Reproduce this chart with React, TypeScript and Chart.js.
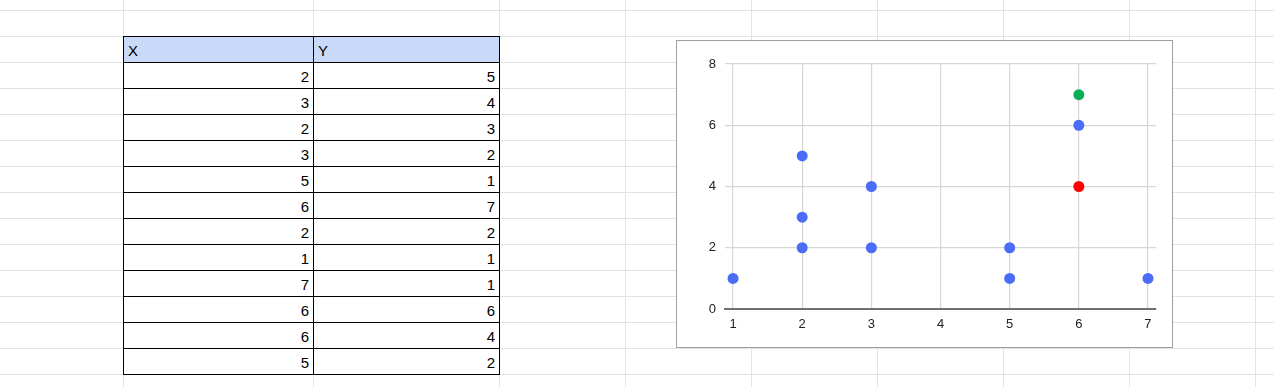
import React, { useEffect, useRef } from "react";
import { Chart, registerables } from "chart.js";

Chart.register(...registerables);

// ---- data ----
const xValues = [2, 3, 2, 3, 5, 6, 2, 1, 7, 6, 6, 5];
const yValues = [5, 4, 3, 2, 1, 7, 2, 1, 1, 6, 4, 2];
const xTicks = [1, 2, 3, 4, 5, 6, 7];
const yTicks = [0, 2, 4, 6, 8];
const headers = ["X", "Y"];
// indices of highlighted points
const greenIndex = [5];
const redIndex = [10];

const BLUE = "#4a6cf6";
const GREEN = "#0aaf55";
const RED = "#fe0000";

const FONT = '"Liberation Sans", Arial, sans-serif';

// sheet layout
const colLines = [123, 313, 499, 625, 751, 877, 1003, 1129, 1255];
const rowLines = Array.from({ length: 15 }, (_, i) => 10 + i * 26);
const tableLeft = 123;
const tableMid = 313;
const tableRight = 499;
const tableTop = 36;
const rowH = 26;

function ScatterChart() {
  const ref = useRef<HTMLCanvasElement | null>(null);
  useEffect(() => {
    if (!ref.current) return;
    const pts = xValues.map((x, i) => ({ x, y: yValues[i] }));
    const colors = pts.map((_, i) =>
      greenIndex.includes(i) ? GREEN : redIndex.includes(i) ? RED : BLUE
    );
    const chart = new Chart(ref.current, {
      type: "scatter",
      data: {
        datasets: [
          {
            data: pts,
            pointBackgroundColor: colors,
            pointBorderWidth: 0,
            pointRadius: 5.5,
            pointHoverRadius: 5.5,
          },
        ],
      },
      options: {
        animation: false,
        responsive: false,
        devicePixelRatio: 1,
        layout: { padding: { top: 23, right: 16, left: 0, bottom: 0 } },
        plugins: { legend: { display: false }, tooltip: { enabled: false } },
        scales: {
          x: {
            type: "linear",
            min: 0.884,
            max: 7.116,
            afterBuildTicks: (s: any) => {
              s.ticks = xTicks.map((v) => ({ value: v }));
            },
            afterFit: (s: any) => {
              s.height = 38;
            },
            grid: { color: "#d6d6d6", lineWidth: 1.2, drawTicks: false },
            border: { display: true, color: "#6f6f6f", width: 2 },
            ticks: {
              padding: 8,
              color: "#222",
              font: { family: FONT, size: 13 },
              maxRotation: 0,
            },
          },
          y: {
            type: "linear",
            min: 0,
            max: 8,
            afterBuildTicks: (s: any) => {
              s.ticks = yTicks.map((v) => ({ value: v }));
            },
            afterFit: (s: any) => {
              s.width = 48;
            },
            grid: { color: "#d6d6d6", lineWidth: 1.2, drawTicks: false },
            border: { display: false },
            ticks: {
              padding: 9,
              color: "#222",
              font: { family: FONT, size: 13 },
            },
          },
        },
      },
    });
    return () => chart.destroy();
  }, []);
  return <canvas ref={ref} width={495} height={306} style={{ display: "block" }} />;
}

export default function App() {
  const rows = xValues.map((x, i) => [String(x), String(yValues[i])]);
  const allRows = [headers, ...rows];
  return (
    <div
      style={{
        position: "fixed",
        left: 0,
        top: 0,
        width: 1274,
        height: 387,
        background: "#fff",
        overflow: "hidden",
        fontFamily: FONT,
      }}
    >
      {rowLines.map((y) => (
        <div
          key={"r" + y}
          style={{ position: "absolute", left: 0, top: y, width: 1274, height: 1, background: "#e2e3e3" }}
        />
      ))}
      {colLines.map((x) => (
        <div
          key={"c" + x}
          style={{ position: "absolute", left: x, top: 0, width: 1, height: 387, background: "#e2e3e3" }}
        />
      ))}
      {allRows.map((r, ri) => {
        const top = tableTop + ri * rowH;
        const isHeader = ri === 0;
        return (
          <React.Fragment key={"row" + ri}>
            {[0, 1].map((ci) => {
              const left = ci === 0 ? tableLeft : tableMid;
              const right = ci === 0 ? tableMid : tableRight;
              return (
                <div
                  key={ci}
                  style={{
                    position: "absolute",
                    left,
                    top,
                    width: right - left + 1,
                    height: rowH + 1,
                    boxSizing: "border-box",
                    border: "1px solid #000",
                    background: isHeader ? "#c9daf8" : "#fff",
                  }}
                >
                  <div
                    style={{
                      position: "absolute",
                      left: 4,
                      right: 4,
                      top: 0,
                      height: rowH,
                      lineHeight: "27px",
                      fontSize: 15,
                      color: "#000",
                      textAlign: isHeader ? "left" : "right",
                      whiteSpace: "nowrap",
                    }}
                  >
                    {r[ci]}
                  </div>
                </div>
              );
            })}
          </React.Fragment>
        );
      })}
      <div
        style={{
          position: "absolute",
          left: 676,
          top: 40,
          width: 497,
          height: 308,
          boxSizing: "border-box",
          border: "1px solid #9e9e9e",
          background: "#fff",
        }}
      >
        <ScatterChart />
      </div>
    </div>
  );
}
